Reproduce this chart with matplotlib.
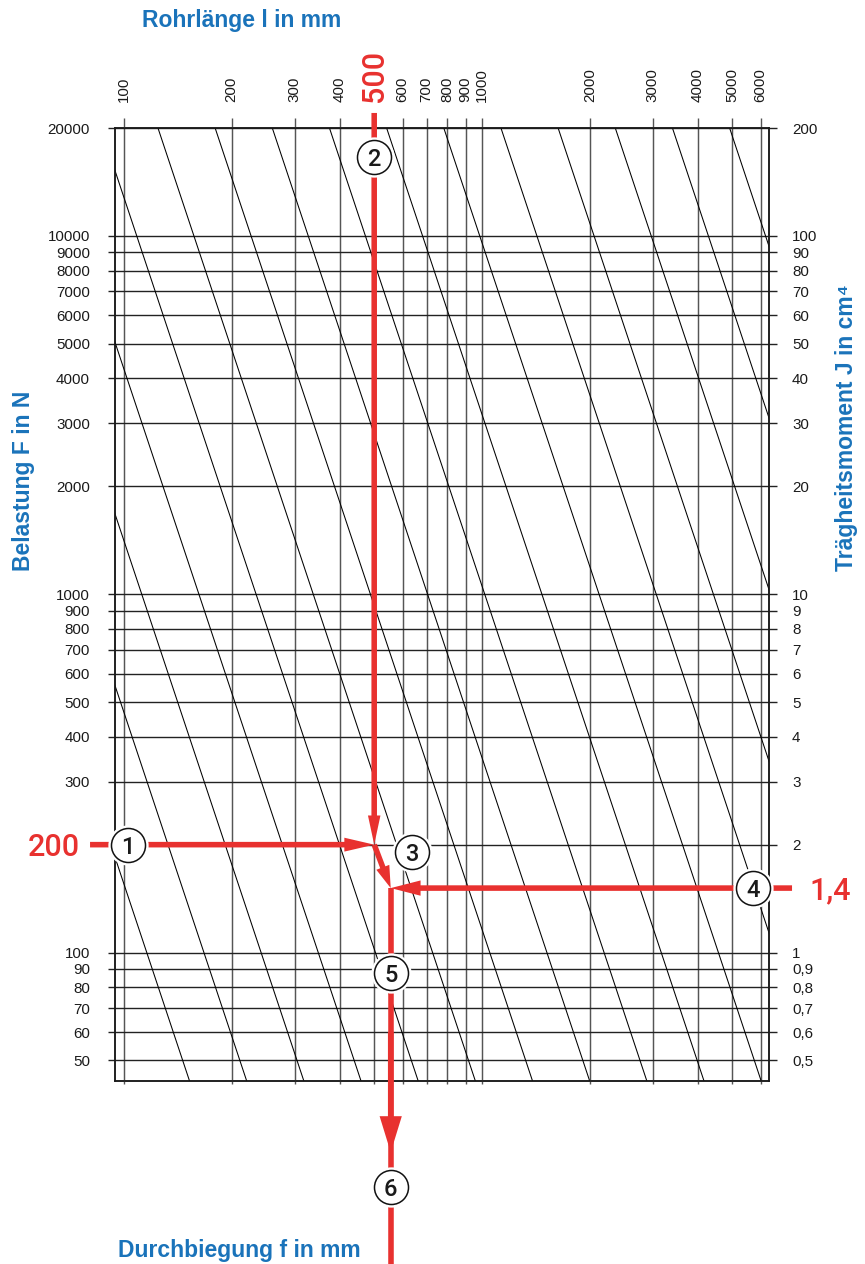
import matplotlib
matplotlib.use("Agg")
import matplotlib.pyplot as plt
import numpy as np
from matplotlib import font_manager as fm
from matplotlib.patches import FancyArrowPatch
from matplotlib.ticker import NullLocator

# ---------------- data ----------------
length_ticks = [100, 200, 300, 400, 500, 600, 700, 800, 900, 1000, 2000, 3000, 4000, 5000, 6000]
length_labels = [str(v) for v in length_ticks]

load_ticks = [50, 60, 70, 80, 90, 100, 200, 300, 400, 500, 600, 700, 800, 900, 1000,
              2000, 3000, 4000, 5000, 6000, 7000, 8000, 9000, 10000, 20000]
load_labels = ["50", "60", "70", "80", "90", "100", "", "300", "400", "500", "600", "700",
               "800", "900", "1000", "2000", "3000", "4000", "5000", "6000", "7000", "8000",
               "9000", "10000", "20000"]

inertia_ticks = [0.5, 0.6, 0.7, 0.8, 0.9, 1, 2, 3, 4, 5, 6, 7, 8, 9, 10,
                 20, 30, 40, 50, 60, 70, 80, 90, 100, 200]
inertia_labels = ["0,5", "0,6", "0,7", "0,8", "0,9", "1", "2", "3", "4", "5", "6", "7", "8", "9",
                  "10", "20", "30", "40", "50", "60", "70", "80", "90", "100", "200"]
load_per_inertia = 100          # 200 cm^4 on the right sits at 20000 N on the left

length_range = (94.4, 6334)     # mm, frame edges
load_range = (43.8, 20000)      # N, frame edges

# diagonal deflection lines: log10(F * l^3)
diag_logK = [8.191, 8.670, 9.149, 9.628, 10.107, 10.586, 11.065, 11.544, 12.023,
             12.502, 12.981, 13.460, 13.939, 14.418, 14.897, 15.376]

# worked example (positions as drawn)
F_input = 200
F_input_label = "200"
l_input = 500
J_input_label = "1,4"
F_step4 = 151.3                  # drawn height of step-4 arrow
l_result = 556                   # drawn position of result line
l_label_left = 80.4
l_label_right = 7345
F_top_start = 22030
F_result_tip = 27.7
F_result_end = 10
circle_l = [102.6, 500, 637, 5715, 556, 556]
circle_F = [200, 16600, 190.7, 151.3, 87.6, 22.15]
circle_txt = ["1", "2", "3", "4", "5", "6"]

RED = "#E8312F"
BLUE = "#1A73BA"
W, H, DPI = 865, 1264, 100


def has_font(name):
    try:
        fm.findfont(fm.FontProperties(family=name), fallback_to_default=False)
        return True
    except Exception:
        return False


NARROW = has_font("Liberation Sans Narrow")
TICK_FAMILY = ["Liberation Sans Narrow", "DejaVu Sans"] if NARROW else ["Liberation Sans", "DejaVu Sans"]
TICK_SIZE = 12.5 if NARROW else 10.9
MAIN_FAMILY = ["Liberation Sans", "DejaVu Sans"]
NUM_FAMILY = ["Roboto", "Liberation Sans", "DejaVu Sans"] if has_font("Roboto") else MAIN_FAMILY
NUM_WEIGHT = 500 if has_font("Roboto") else "bold"

plt.rcParams["font.family"] = MAIN_FAMILY

fig = plt.figure(figsize=(W / DPI, H / DPI), dpi=DPI)
fig.patch.set_facecolor("white")

left, right, top, bottom = 115, 769, 128, 1081
ax = fig.add_axes([left / W, (H - bottom) / H, (right - left) / W, (bottom - top) / H])
ax.set_xscale("log")
ax.set_yscale("log")
ax.set_zorder(3)
ax.patch.set_visible(False)

GRID_V = "#555555"
GRID_H = "#222222"

# diagonal lines
lg = np.array([60.0, 9000.0])
for k in diag_logK:
    ax.plot(lg, 10 ** (k - 3 * np.log10(lg)), color="black", lw=0.75, zorder=2)

# axis ticks / grid
ax.set_xticks(length_ticks, length_labels)
ax.xaxis.set_minor_locator(NullLocator())
ax.xaxis.tick_top()
ax.tick_params(axis="x", which="major", top=True, bottom=False, labeltop=True, labelbottom=False,
               length=7.2, width=1.0, color=GRID_V, pad=11.5, labelrotation=90)
ax.set_yticks(load_ticks, load_labels)
ax.yaxis.set_minor_locator(NullLocator())
ax.tick_params(axis="y", which="major", left=True, right=False, length=5.0, width=1.0,
               color=GRID_H, pad=13)
for lab in ax.get_xticklabels() + ax.get_yticklabels():
    lab.set_fontfamily(TICK_FAMILY)
    lab.set_fontsize(TICK_SIZE)
    lab.set_color("#1a1a1a")
ax.xaxis.grid(True, which="major", color=GRID_V, lw=1.05, zorder=1)
ax.yaxis.grid(True, which="major", color=GRID_H, lw=1.0, zorder=1)

# red "500" on top axis
t500 = ax.xaxis.get_major_ticks()[length_ticks.index(l_input)].label2
t500.set_color(RED)
t500.set_fontsize(22)
t500.set_fontfamily(NUM_FAMILY)
t500.set_fontweight(NUM_WEIGHT)

for s in ax.spines.values():
    s.set_color("#1a1a1a")
    s.set_linewidth(1.1)

# bottom tick stubs
secx = ax.secondary_xaxis("bottom")
secx.set_xticks(length_ticks, [""] * len(length_ticks))
secx.xaxis.set_minor_locator(NullLocator())
secx.tick_params(length=2.5, width=1.0, color=GRID_V)
secx.spines["bottom"].set_visible(False)

# right axis: moment of inertia
ax2 = ax.twinx()
ax2.set_zorder(2)
ax2.set_yscale("log")
ax2.set_ylim(load_range[0] / load_per_inertia, load_range[1] / load_per_inertia)
ax2.set_yticks(inertia_ticks, inertia_labels)
ax2.yaxis.set_minor_locator(NullLocator())
ax2.tick_params(axis="y", which="major", length=5.8, width=1.0, color=GRID_H, pad=10.8)
for lab in ax2.get_yticklabels():
    lab.set_fontfamily(TICK_FAMILY)
    lab.set_fontsize(TICK_SIZE)
    lab.set_color("#1a1a1a")
for s in ax2.spines.values():
    s.set_color("#1a1a1a")
    s.set_linewidth(1.1)


# ---------------- red construction ----------------
def arrow(p0, p1, hl, hw, tw=4.0, z=5):
    a = FancyArrowPatch(p0, p1, arrowstyle=f"simple,head_length={hl},head_width={hw},tail_width={tw}",
                        mutation_scale=1, lw=0, color=RED, shrinkA=0, shrinkB=0,
                        clip_on=False, zorder=z)
    ax.add_patch(a)


# step 2 -> vertical down at l = 500
arrow((l_input, F_top_start), (l_input, F_input), hl=21, hw=9)
# step 1 -> horizontal at F = 200
arrow((l_label_left, F_input), (l_input, F_input), hl=21.5, hw=10)
# step 3 -> short diagonal
arrow((l_input, F_input), (l_result, F_step4), hl=16, hw=10)
# step 4 -> horizontal from right
arrow((l_label_right, F_step4), (l_result, F_step4), hl=21.5, hw=11)
# result line down
ax.plot([l_result, l_result], [F_step4, F_result_end], color=RED, lw=4.0,
        solid_capstyle="butt", clip_on=False, zorder=5)
arrow((l_result, 60), (l_result, F_result_tip), hl=26, hw=16)

# circles
for cl, cf, ct in zip(circle_l, circle_F, circle_txt):
    ax.plot([cl], [cf], marker="o", ms=29, mfc="white", mec="none", clip_on=False, zorder=6)
    ax.plot([cl], [cf], marker="o", ms=24.5, mfc="white", mec="#111111", mew=1.1,
            clip_on=False, zorder=7)
    ax.text(cl, cf, ct, ha="center", va="center_baseline", fontsize=17, fontweight=NUM_WEIGHT,
            family=NUM_FAMILY, color="#1a1a1a", zorder=8, clip_on=False)

# red value labels
ax.text(l_label_left * 0.938, F_input, F_input_label, ha="right", va="center_baseline",
        fontsize=22, fontweight=NUM_WEIGHT, family=NUM_FAMILY, color=RED, clip_on=False, zorder=8)
ax.text(l_label_right * 1.12, F_step4, J_input_label, ha="left", va="center_baseline",
        fontsize=22, fontweight=NUM_WEIGHT, family=NUM_FAMILY, color=RED, clip_on=False, zorder=8)

ax.set_xlim(*length_range)
ax.set_ylim(*load_range)

# ---------------- axis titles ----------------
tk = dict(color=BLUE, fontweight="bold", fontsize=16.5, family=MAIN_FAMILY)
fig.text(242 / W, 1 - 20 / H, "Rohrlänge l in mm", ha="center", va="center", **tk)
fig.text(24 / W, 1 - 481 / H, "Belastung F in N", ha="center", va="center", rotation=90, **tk)
fig.text(846 / W, 1 - 428 / H, "Trägheitsmoment J in cm⁴", ha="center", va="center",
         rotation=90, **tk)
fig.text(239 / W, 1 - 1250 / H, "Durchbiegung f in mm", ha="center", va="center", **tk)

fig.savefig("out.png", dpi=DPI, facecolor="white")
